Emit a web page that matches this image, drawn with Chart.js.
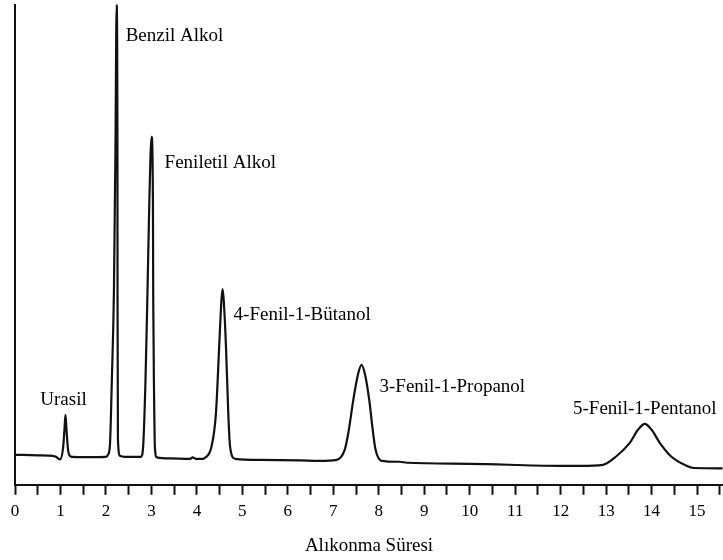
<!DOCTYPE html>
<html lang="tr">
<head>
<meta charset="utf-8">
<title>Alıkonma Süresi</title>
<script src="https://cdn.jsdelivr.net/npm/chart.js@4/dist/chart.umd.min.js"></script>
<style>
  html, body { margin: 0; padding: 0; background: #fff; }
  #chromChart { display: block; }
</style>
</head>
<body>
<canvas id="chromChart" width="723" height="560"></canvas>
<script>
// Kromatogram sinyali: alıkonma süresi (dk) ve dedektör yanıtı
const retentionTimes = [
  0, 0.5, 0.88, 0.99, 1.06, 1.09, 1.11, 1.13, 1.16, 1.19, 1.25, 1.6, 2.0,
  2.044, 2.088, 2.13, 2.176, 2.209, 2.235, 2.253, 2.255, 2.264, 2.308, 2.42, 2.75,
  2.77, 2.82, 2.87, 2.91, 2.955, 3.004, 3.033, 3.04, 3.06, 3.077, 3.12, 3.41, 3.85, 3.91, 3.98, 4.13,
  4.18, 4.32, 4.42, 4.49, 4.54, 4.565, 4.59, 4.64, 4.69, 4.73, 4.84, 5.38, 6.26, 6.70,
  7.07, 7.25, 7.33, 7.44, 7.54, 7.62, 7.70, 7.79, 7.875, 7.93, 8.06, 8.46, 8.62, 10.0, 11.98, 12.42,
  12.93, 13.22, 13.52, 13.70, 13.85, 14.00, 14.18, 14.43, 14.76, 14.92, 15.56
];
const signal = [
  6.25, 6.15, 5.94, 5.31, 7.92, 11.9, 14.58, 11.9, 7.92, 6.25, 5.83, 5.77, 5.83,
  6.25, 8.33, 21.9, 40.6, 69.8, 100, 69.8, 38.5, 9.38, 6.04, 5.83, 5.83,
  5.83, 8.33, 21.9, 38.5, 59.4, 72.5, 59.4, 38.5, 17.7, 7.71, 5.73, 5.52, 5.42, 5.73, 5.42, 5.42,
  5.63, 7.92, 15.0, 28.75, 38.5, 40.77, 38.5, 28.75, 15.0, 7.92, 5.42, 5.21, 5.10, 5.0,
  5.21, 7.29, 10.8, 17.7, 22.9, 25.0, 22.9, 17.7, 10.8, 7.29, 5.0, 4.8, 4.6, 4.38, 3.96, 3.96,
  4.17, 5.90, 8.75, 11.46, 12.71, 11.46, 8.75, 5.90, 4.0, 3.5, 3.44
];

// Pik adları ve tepe noktaları
const peakNames = ['Urasil', 'Benzil Alkol', 'Feniletil Alkol', '4-Fenil-1-Bütanol', '3-Fenil-1-Propanol', '5-Fenil-1-Pentanol'];
const peakTimes = [1.11, 2.235, 3.004, 4.565, 7.62, 13.85];
const peakHeights = [14.58, 100, 72.5, 40.77, 25.0, 12.71];

// Eksen aralığı
const timeMin = 0;
const timeMax = 15.57;

// Etiketlerin tepeye göre konumu (piksel)
const labelPlacement = [
  { dx: -2, dy: -15, align: 'center' },
  { dx: 9, dy: 31, align: 'left' },
  { dx: 13, dy: 26, align: 'left' },
  { dx: 11, dy: 26, align: 'left' },
  { dx: 18, dy: 22, align: 'left' },
  { dx: 0, dy: -15, align: 'center' }
];

const serif = '"Liberation Serif", "Times New Roman", serif';

// Pik etiketlerini çiz
const peakLabels = {
  id: 'peakLabels',
  afterDatasetsDraw(chart) {
    const { ctx, scales } = chart;
    ctx.save();
    ctx.font = '19px ' + serif;
    ctx.fillStyle = '#000';
    ctx.textBaseline = 'middle';
    peakNames.forEach((name, i) => {
      const p = labelPlacement[i];
      const x = scales.x.getPixelForValue(peakTimes[i]) + p.dx;
      const y = scales.y.getPixelForValue(peakHeights[i]) + p.dy;
      ctx.textAlign = p.align;
      ctx.fillText(name, x, y);
    });
    ctx.restore();
  }
};

const points = retentionTimes.map((t, i) => ({ x: t, y: signal[i] }));

new Chart(document.getElementById('chromChart'), {
  type: 'line',
  data: {
    datasets: [{
      data: points,
      borderColor: '#111',
      borderWidth: 2.2,
      pointRadius: 0,
      fill: false,
      cubicInterpolationMode: 'monotone',
      clip: false
    }]
  },
  options: {
    responsive: false,
    devicePixelRatio: 1,
    animation: false,
    layout: { padding: { left: 15, top: 5, right: 0, bottom: 3 } },
    plugins: {
      legend: { display: false },
      tooltip: { enabled: false }
    },
    scales: {
      x: {
        type: 'linear',
        min: timeMin,
        max: timeMax,
        // eksen uçlarında etiket payı bırakma
        afterFit: scale => {
          scale.paddingLeft = 0;
          scale.paddingRight = 0;
        },
        grid: {
          drawOnChartArea: false,
          drawTicks: true,
          tickLength: 10,
          tickWidth: 2,
          tickColor: '#111'
        },
        border: { display: true, color: '#111', width: 2 },
        ticks: {
          stepSize: 0.5,
          includeBounds: false,
          autoSkip: false,
          maxRotation: 0,
          padding: 7,
          color: '#000',
          font: { family: serif, size: 17 },
          callback: v => Number.isInteger(v) ? String(v) : ''
        },
        title: {
          display: true,
          text: 'Alıkonma Süresi',
          color: '#000',
          font: { family: serif, size: 19 },
          padding: { top: 5, bottom: 0 }
        }
      },
      y: {
        min: 0,
        max: 100,
        grid: { display: false, drawTicks: false },
        border: { display: true, color: '#111', width: 2 },
        ticks: { display: false }
      }
    }
  },
  plugins: [peakLabels]
});
</script>
</body>
</html>
